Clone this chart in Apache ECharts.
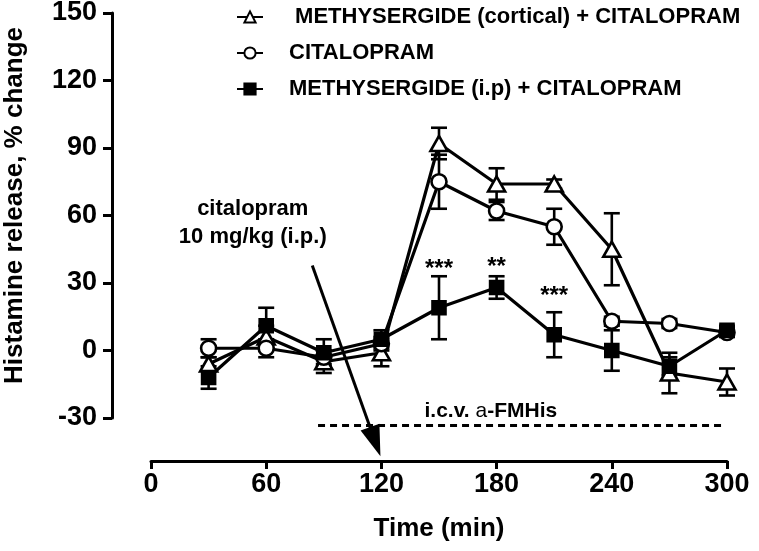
<!DOCTYPE html>
<html>
<head>
<meta charset="utf-8">
<script src="https://cdn.jsdelivr.net/npm/echarts@6/dist/echarts.min.js"></script>
<style>
html,body{margin:0;padding:0;background:#fff;}
#chart{width:759px;height:551px;}
</style>
</head>
<body>
<div id="chart"></div>
<script>
// ---- data ----
const times = [30, 60, 90, 120, 150, 180, 210, 240, 270, 300];
const cortical = [-6, 6, -5, -1, 92, 74, 74, 45, -10, -14];
const corticalErr = [3, 5, 5, 6, 7, 7, 2, 16, 9, 6];
const citalopram = [1, 1, -3, 3, 75, 62, 55, 13, 12, 8];
const citalopramErr = [4, 4, 3, 3, 12, 4, 8, 2, 2, 2];
const methyIp = [-12, 11, -1, 5, 19, 28, 7, 0, -7, 9];
const methyIpErr = [5, 8, 6, 4, 14, 5, 10, 9, 4, 2];
const seriesNames = [' METHYSERGIDE (cortical) + CITALOPRAM', 'CITALOPRAM', 'METHYSERGIDE (i.p) + CITALOPRAM'];
const starTimes = [150, 180, 210];
const starValues = [36, 37, 24];
const starTexts = ['***', '**', '***'];
const noteTexts = ['citalopram', '10 mg/kg (i.p.)'];
const notePos = [[53, 63], [53, 50.5]];
const icvPos = [177, -27];
const infusionLine = [[87, -33.3], [298, -33.3]];
const arrowTail = [84, 37.8];
const arrowTip = [119.5, -47];
const xTicks = [0, 60, 120, 180, 240, 300];
const yTicks = [-30, 0, 30, 60, 90, 120, 150];

const FONT = 'Liberation Sans, Arial, sans-serif';

function pairs(xs, ys) { return xs.map((x, i) => [x, ys[i]]); }
function errData(xs, ys, es) { return xs.map((x, i) => [x, ys[i], es[i]]); }

function errorSeries(xs, ys, es) {
  return {
    type: 'custom',
    data: errData(xs, ys, es),
    z: 1,
    silent: true,
    clip: false,
    renderItem: function (params, api) {
      const x = api.value(0), y = api.value(1), e = api.value(2);
      const hi = api.coord([x, y + e]);
      const lo = api.coord([x, y - e]);
      const w = 8;
      const st = { stroke: '#000', lineWidth: 2.6 };
      return {
        type: 'group',
        children: [
          { type: 'line', shape: { x1: hi[0], y1: hi[1], x2: lo[0], y2: lo[1] }, style: st },
          { type: 'line', shape: { x1: hi[0] - w, y1: hi[1], x2: hi[0] + w, y2: hi[1] }, style: st },
          { type: 'line', shape: { x1: lo[0] - w, y1: lo[1], x2: lo[0] + w, y2: lo[1] }, style: st }
        ]
      };
    }
  };
}

function lineSeries(name, ys, symbol, size, fill) {
  return {
    name: name,
    type: 'line',
    data: pairs(times, ys),
    symbol: symbol,
    symbolSize: size,
    showAllSymbol: true,
    clip: false,
    z: 3,
    lineStyle: { color: '#000', width: 3.2 },
    itemStyle: { color: fill, borderColor: '#000', borderWidth: 2.6 }
  };
}

function textSeries(items, fontSize) {
  return {
    type: 'custom',
    silent: true,
    clip: false,
    z: 5,
    data: items.map(it => [it.pos[0], it.pos[1]]),
    renderItem: function (params, api) {
      const it = items[params.dataIndex];
      const p = api.coord([api.value(0), api.value(1)]);
      return {
        type: 'text',
        x: p[0], y: p[1],
        style: {
          text: it.text,
          rich: it.rich,
          align: 'center', verticalAlign: 'middle',
          fill: '#000',
          font: 'bold ' + fontSize + 'px ' + FONT
        }
      };
    }
  };
}

const arrowSeries = {
  type: 'custom',
  silent: true,
  clip: false,
  z: 4,
  data: [[arrowTail[0], arrowTail[1], arrowTip[0], arrowTip[1]]],
  renderItem: function (params, api) {
    const a = api.coord([api.value(0), api.value(1)]);
    const b = api.coord([api.value(2), api.value(3)]);
    const dx = b[0] - a[0], dy = b[1] - a[1];
    const len = Math.sqrt(dx * dx + dy * dy);
    const ux = dx / len, uy = dy / len;
    const headLen = 31, half = 10;
    const bx = b[0] - ux * headLen, by = b[1] - uy * headLen;
    return {
      type: 'group',
      children: [
        { type: 'line', shape: { x1: a[0], y1: a[1], x2: bx + ux * 2, y2: by + uy * 2 }, style: { stroke: '#000', lineWidth: 3 } },
        { type: 'polygon', shape: { points: [[b[0], b[1]], [bx - uy * half, by + ux * half], [bx + uy * half, by - ux * half]] }, style: { fill: '#000' } }
      ]
    };
  }
};

const starItems = starTimes.map((t, i) => ({ pos: [t, starValues[i]], text: starTexts[i] }));
const noteItems = noteTexts.map((s, i) => ({ pos: notePos[i], text: s }));
const icvItems = [{
  pos: icvPos,
  text: '{b|i.c.v. }{n|a}{b|-FMHis}',
  rich: {
    b: { fontFamily: FONT, fontWeight: 'bold', fontSize: 21, fill: '#000' },
    n: { fontFamily: FONT, fontWeight: 'normal', fontSize: 21, fill: '#000' }
  }
}];

const chart = echarts.init(document.getElementById('chart'), null, { renderer: 'canvas' });
chart.setOption({
  animation: false,
  backgroundColor: '#fff',
  textStyle: { fontFamily: FONT },
  grid: { left: 151, right: 32, top: 13, bottom: 133, containLabel: false, outerBoundsMode: 'none' },
  legend: {
    data: seriesNames,
    orient: 'vertical',
    left: 236,
    top: 6,
    padding: 0,
    itemWidth: 26,
    itemHeight: 14,
    itemGap: 14,
    textStyle: { fontFamily: FONT, fontWeight: 'bold', fontSize: 22, color: '#000', padding: [0, 0, 0, 21] }
  },
  xAxis: {
    type: 'value',
    min: xTicks[0],
    max: xTicks[xTicks.length - 1],
    interval: 60,
    offset: 43,
    name: 'Time (min)',
    nameLocation: 'middle',
    nameGap: 55,
    nameTextStyle: { fontFamily: FONT, fontWeight: 'bold', fontSize: 26, color: '#000' },
    axisLine: { onZero: false, lineStyle: { color: '#000', width: 3 } },
    axisTick: { length: 8, lineStyle: { color: '#000', width: 3 } },
    axisLabel: { margin: 10, fontFamily: FONT, fontWeight: 'bold', fontSize: 27, color: '#000' },
    splitLine: { show: false }
  },
  yAxis: {
    type: 'value',
    min: yTicks[0],
    max: yTicks[yTicks.length - 1],
    interval: 30,
    offset: 39,
    name: 'Histamine release, % change',
    nameLocation: 'middle',
    nameGap: 84,
    nameTextStyle: { fontFamily: FONT, fontWeight: 'bold', fontSize: 26, color: '#000', padding: [0, 0, 0, 20] },
    axisLine: { show: true, onZero: false, lineStyle: { color: '#000', width: 3 } },
    axisTick: { show: true, length: 9, lineStyle: { color: '#000', width: 3 } },
    axisLabel: { margin: 15, fontFamily: FONT, fontWeight: 'bold', fontSize: 27, color: '#000' },
    splitLine: { show: false }
  },
  series: [
    errorSeries(times, cortical, corticalErr),
    errorSeries(times, citalopram, citalopramErr),
    errorSeries(times, methyIp, methyIpErr),
    lineSeries(seriesNames[0], cortical, 'triangle', [17, 15], '#fff'),
    lineSeries(seriesNames[1], citalopram, 'circle', 15, '#fff'),
    lineSeries(seriesNames[2], methyIp, 'rect', 13, '#000'),
    {
      type: 'lines',
      coordinateSystem: 'cartesian2d',
      silent: true,
      clip: false,
      z: 2,
      symbol: ['none', 'none'],
      lineStyle: { color: '#000', width: 3, type: [7, 5], opacity: 1 },
      data: [{ coords: infusionLine }]
    },
    arrowSeries,
    textSeries(starItems, 24),
    textSeries(noteItems, 22),
    textSeries(icvItems, 21)
  ]
});
</script>
</body>
</html>
